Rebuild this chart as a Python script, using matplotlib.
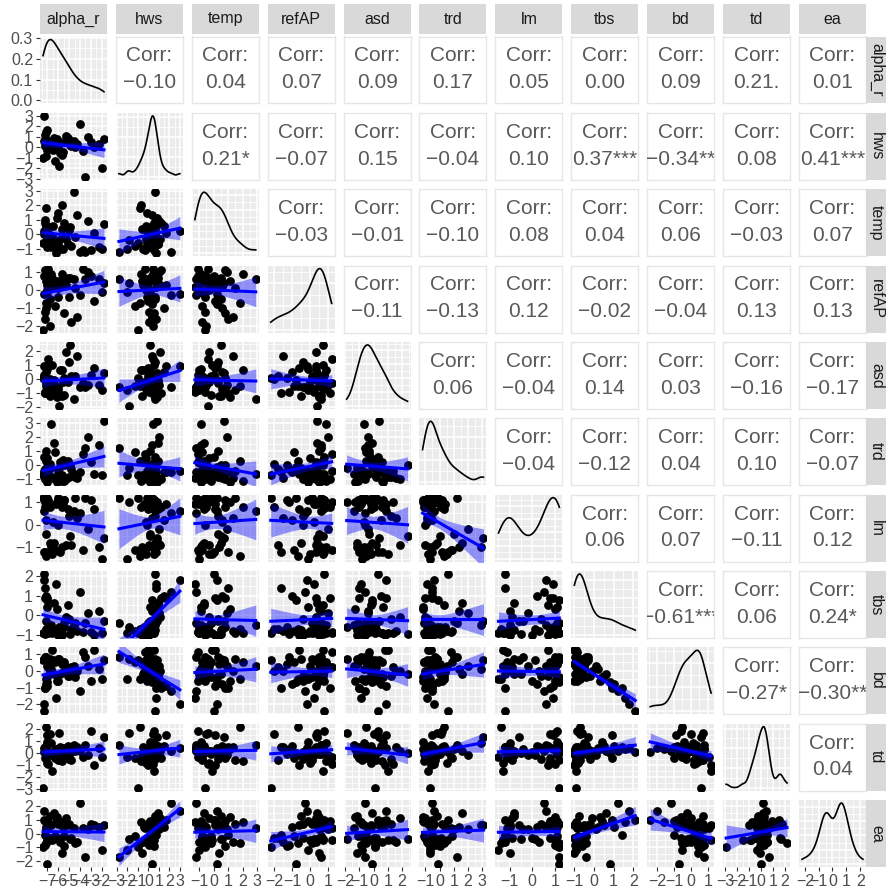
"""Pairs plot of the standardised site variables: scatter + lm fit below,
kernel densities on the diagonal, Pearson correlations above."""

import matplotlib
matplotlib.use("Agg")
import matplotlib.pyplot as plt
import numpy as np

plt.rcParams["font.family"] = ["Liberation Sans", "DejaVu Sans"]

# ---------------------------------------------------------------------------
# data
# ---------------------------------------------------------------------------

VARIABLES = ["alpha_r", "hws", "temp", "refAP", "asd", "trd",
             "lm", "tbs", "bd", "td", "ea"]

alpha_r = [-6.9, -5.8, -7.2, -4.8, -3.5, -5.0, -7.0, -6.1, -7.3, -6.7,
           -7.4, -4.9, -6.2, -3.7, -7.1, -5.5, -7.1, -2.7, -6.4, -5.9,
           -4.3, -7.3, -6.0, -3.3, -6.8, -5.7, -7.0, -4.0, -6.6, -5.6,
           -1.8, -7.2, -6.3, -4.6, -7.0, -5.3, -6.5, -3.0, -7.2, -5.7,
           -7.1, -6.9, -2.0, -5.1, -4.5, -6.8, -7.0, -6.0, -2.3, -5.5]
hws = [0.3, -0.5, 1.2, 0.1, -2.8, 0.6, -0.2, 0.8, 3.0, 0.4,
       -1.0, 0.2, 0.7, -0.3, 1.5, 0.5, -0.8, 0.0, 0.9, -1.8,
       0.3, 0.6, -0.1, 1.0, 0.4, -0.6, 0.2, 2.2, 0.5, -0.4,
       0.8, 0.1, -1.3, 0.6, 0.3, 1.1, -0.2, 0.5, 0.7, -0.7,
       0.2, 0.4, -2.0, 0.9, 0.0, 0.6, 1.7, -0.1, 0.3, 0.5]
temp = [-0.5, -1.0, 0.8, -0.8, -1.2, 0.3, -0.3, 1.1, 0.2, -0.9,
        -0.6, 0.5, -1.3, -1.1, 0.6, -0.2, 1.8, 0.1, -0.7, -0.4,
        1.3, 0.0, 1.5, 0.9, -0.5, 0.4, -0.9, -1.2, -0.1, -1.0,
        0.7, -0.6, -0.8, 2.9, 0.2, -0.3, 0.6, -1.1, 1.0, 2.0,
        0.3, -0.4, -1.0, -0.7, -0.2, 0.5, 0.1, -0.6, -0.9, 0.8]
refAP = [0.8, 0.3, 1.1, -1.8, 0.6, -0.4, 0.0, 0.5, -0.2, 0.9,
         -2.2, 0.7, 0.2, 1.2, -1.0, 0.6, -0.7, -0.6, 0.4, 0.4,
         -1.5, 0.8, 0.1, 1.0, -2.0, 0.5, -0.1, -0.3, 0.7, 0.7,
         0.4, -1.2, -0.9, 0.6, -0.8, 0.3, 0.2, 0.8, -1.6, 0.9,
         0.5, 1.2, -0.1, 0.7, 0.1, -0.5, 0.3, -0.4, 0.6, -1.3]
asd = [-0.4, 0.6, -1.0, 0.2, -0.6, 1.2, -0.2, -1.3, 0.9, -0.7,
       0.1, 2.4, -0.9, -0.3, 0.5, -1.1, -0.5, 0.8, -0.1, -1.9,
       1.6, 0.3, -0.8, -0.4, 0.0, -1.2, 0.7, -0.6, 1.0, -0.2,
       0.4, -0.9, -0.5, -1.4, -0.1, 1.9, -0.7, 0.3, -1.0, 0.6,
       -0.3, 1.4, -0.8, -0.2, 0.2, -1.2, 0.9, -0.6, -0.4, 0.1]
trd = [-0.6, 0.2, -1.0, -0.3, 1.2, -0.8, 0.5, -1.2, -0.4, 2.9,
       -0.7, 0.0, -0.9, 0.8, -0.5, -1.1, 0.3, -0.6, 1.6, -0.2,
       -0.9, 0.6, -0.4, 2.0, 0.1, -0.7, -1.2, -0.5, -0.8, 0.4,
       3.1, -0.3, 0.9, -0.6, -0.1, -1.0, -0.9, 0.2, -0.5, -1.1,
       1.0, -0.4, -0.7, 0.3, -0.8, -0.2, -0.5, -1.0, 1.4, 0.0]
lm = [1.1, -1.2, 0.8, -0.9, 1.2, 0.4, -1.3, 1.0, 0.6, -1.0,
      1.2, -0.5, 0.9, -1.1, 0.2, 1.1, -1.4, 0.7, -0.8, 1.0,
      0.3, -1.2, 1.2, -0.2, 0.8, -1.0, 1.1, 0.5, -1.3, 0.9,
      -0.6, 1.0, -1.1, 0.6, 1.2, -0.9, 0.1, 1.1, -1.2, 0.8,
      -0.4, 1.0, -1.5, 0.7, 1.2, -0.8, 0.9, 0.0, -1.0, 1.1]
tbs = [-0.6, -0.9, 0.9, -0.7, -0.4, -0.2, -0.8, 0.3, 1.8, -0.5,
       -0.9, -0.95, 1.6, -0.85, 1.0, -0.4, -0.7, -1.0, 0.6, -0.6,
       -0.8, 2.1, -0.9, 0.1, -0.7, -1.0, 0.4, 1.2, -0.9, -0.6,
       -0.3, -0.95, -0.8, -0.5, 0.8, -0.1, -0.7, -0.85, 1.4, -0.9,
       -0.3, -0.9, -0.9, 0.5, -0.4, -0.75, 0.9, -1.0, 0.2, -0.6]
bd = [0.4, -0.2, -1.0, 0.2, 0.8, -0.3, 0.3, -0.6, -2.0, 0.1,
      0.6, -0.2, -1.6, 1.1, -0.8, 0.5, -0.5, 1.2, -0.2, 0.7,
      0.0, -2.4, 0.7, 0.3, 0.0, 0.4, -0.4, -1.2, 1.2, -0.1,
      0.6, 0.8, 0.5, 0.3, -0.7, 0.0, 0.6, -0.6, -1.0, 0.5,
      0.8, 0.2, -0.5, -0.3, -0.4, 0.7, -0.9, -0.6, 0.1, 0.4]
td = [0.1, 0.5, -0.4, -0.6, 0.7, -0.5, -0.8, 0.3, 0.4, 0.8,
      -2.9, 0.0, 0.3, -0.3, 0.6, -0.1, 2.2, -1.0, 0.2, 1.7,
      0.5, 0.1, -0.6, -0.2, 1.6, -0.1, 0.9, 0.2, -1.5, 0.4,
      1.3, 0.3, -0.4, 0.7, 0.0, 0.2, -0.2, 1.8, 0.5, -0.7,
      0.3, -0.9, -0.3, 0.6, 0.2, -0.2, 1.5, 0.1, 0.4, -0.1]
ea = [0.5, -0.6, 0.9, -0.3, -1.7, 0.7, -0.5, 1.2, 1.6, 0.6,
      -1.0, -0.4, 0.8, 0.4, 0.5, -0.2, -0.7, 0.6, 1.5, -0.4,
      -0.6, 1.0, 0.7, 0.3, -0.3, -1.4, 0.9, 2.2, -0.5, 0.5,
      0.6, -0.8, -0.2, 0.4, -2.2, 1.1, -0.4, 0.7, -0.1, 0.8,
      0.3, -0.5, -1.2, 0.6, -0.7, 1.3, 1.0, -0.3, 0.5, -0.9]

# upper triangle: one list per row, columns right of the diagonal
corr_r = [
    [-0.10, 0.04, 0.07, 0.09, 0.17, 0.05, 0.00, 0.09, 0.21, 0.01],
    [0.21, -0.07, 0.15, -0.04, 0.10, 0.37, -0.34, 0.08, 0.41],
    [-0.03, -0.01, -0.10, 0.08, 0.04, 0.06, -0.03, 0.07],
    [-0.11, -0.13, 0.12, -0.02, -0.04, 0.13, 0.13],
    [0.06, -0.04, 0.14, 0.03, -0.16, -0.17],
    [-0.04, -0.12, 0.04, 0.10, -0.07],
    [0.06, 0.07, -0.11, 0.12],
    [-0.61, 0.06, 0.24],
    [-0.27, -0.30],
    [0.04],
]
corr_stars = [
    ["", "", "", "", "", "", "", "", ".", ""],
    ["*", "", "", "", "", "***", "**", "", "***"],
    ["", "", "", "", "", "", "", ""],
    ["", "", "", "", "", "", ""],
    ["", "", "", "", "", ""],
    ["", "", "", "", ""],
    ["", "", "", ""],
    ["***", "", "*"],
    ["*", "**"],
    [""],
]

# ---------------------------------------------------------------------------
# helpers
# ---------------------------------------------------------------------------

W, H = 887, 896
LEFT, TOP = 40, 36.5
PITCH_X, PITCH_Y = 75.9, 76.35
PW, PH = 67, 67

BG = "#EBEBEB"
STRIP_BG = "#D9D9D9"
TICK_COL = "#333333"
LABEL_COL = "#4D4D4D"
LABEL_SIZE = 11.5


def px_axes(fig, x, y, w, h):
    return fig.add_axes([x / W, 1 - (y + h) / H, w / W, h / H])


def nrd0(x):
    sd = x.std(ddof=1)
    q75, q25 = np.percentile(x, [75, 25])
    lo = min(sd, (q75 - q25) / 1.34)
    return 0.9 * lo * len(x) ** -0.2


def kde(x, n=512):
    grid = np.linspace(x.min(), x.max(), n)
    bw = nrd0(x)
    z = (grid[:, None] - x[None, :]) / bw
    d = np.exp(-0.5 * z ** 2).sum(axis=1) / (len(x) * bw * np.sqrt(2 * np.pi))
    return grid, d


def t_quantile(df, z=1.959964):
    # Cornish-Fisher expansion of the 97.5% Student t quantile
    return (z + (z ** 3 + z) / (4 * df)
            + (5 * z ** 5 + 16 * z ** 3 + 3 * z) / (96 * df ** 2))


def lm_band(x, y, n=80):
    b1, b0 = np.polyfit(x, y, 1)
    xs = np.linspace(x.min(), x.max(), n)
    fit = b0 + b1 * xs
    resid = y - (b0 + b1 * x)
    s = np.sqrt((resid ** 2).sum() / (len(x) - 2))
    sxx = ((x - x.mean()) ** 2).sum()
    se = s * np.sqrt(1 / len(x) + (xs - x.mean()) ** 2 / sxx)
    t = t_quantile(len(x) - 2)
    return xs, fit, fit - t * se, fit + t * se


def expand(lo, hi, mult=0.05):
    r = hi - lo
    return lo - mult * r, hi + mult * r


def int_breaks(lim):
    return np.arange(np.ceil(lim[0]), np.floor(lim[1]) + 1) + 0.0


def pretty_breaks(lim):
    for step in [0.05, 0.1, 0.2, 0.25, 0.5, 1.0]:
        b = np.arange(np.ceil(lim[0] / step) * step, lim[1] + 1e-9, step)
        if len(b) <= 5:
            break
    return np.round(b, 10) + 0.0


def minor_breaks(major, lim):
    step = major[1] - major[0]
    m = np.arange(major[0] - step / 2, major[-1] + step, step)
    return m[(m >= lim[0]) & (m <= lim[1])]


def fmt(v, decimals=0):
    return f"{v + 0.0:.{decimals}f}".replace("-", "\u2212")


def setup_panel(ax, xlim, ylim, xb, yb, grid=True):
    ax.set_xlim(xlim)
    ax.set_ylim(ylim)
    ax.set_xticks(xb)
    ax.set_yticks(yb)
    ax.set_xticks(minor_breaks(xb, xlim), minor=True)
    ax.set_yticks(minor_breaks(yb, ylim), minor=True)
    ax.tick_params(which="both", length=0, labelbottom=False, labelleft=False)
    if grid:
        ax.set_facecolor(BG)
        ax.grid(which="major", color="white", linewidth=1.1)
        ax.grid(which="minor", color="white", linewidth=0.55)
        ax.set_axisbelow(True)
        for s in ax.spines.values():
            s.set_visible(False)
    else:
        ax.set_facecolor("white")
        for s in ax.spines.values():
            s.set_color("#E6E6E6")
            s.set_linewidth(1.0)


# ---------------------------------------------------------------------------
# plot
# ---------------------------------------------------------------------------

data = [np.asarray(v, dtype=float) for v in
        [alpha_r, hws, temp, refAP, asd, trd, lm, tbs, bd, td, ea]]
nv = len(VARIABLES)
lims = [expand(d.min(), d.max()) for d in data]
breaks = [int_breaks(l) for l in lims]
dens = [kde(d) for d in data]

fig = plt.figure(figsize=(W / 100, H / 100), dpi=100)

for i in range(nv):
    for j in range(nv):
        x0 = LEFT + j * PITCH_X
        y0 = TOP + i * PITCH_Y
        ax = px_axes(fig, x0, y0, PW, PH)

        if i == j:
            gx, gy = dens[j]
            dlim = expand(0, gy.max())
            dbreaks = pretty_breaks(dlim)
            setup_panel(ax, lims[j], dlim, breaks[j], dbreaks)
            ax.plot(gx, gy, color="black", linewidth=1.2)
            if i == 0:
                ax.set_yticklabels([fmt(v, 1) for v in dbreaks])
        elif i > j:
            x, y = data[j], data[i]
            setup_panel(ax, lims[j], lims[i], breaks[j], breaks[i])
            ax.scatter(x, y, s=40, color="black", linewidths=0, zorder=2)
            xs, fit, lo, hi = lm_band(x, y)
            ax.fill_between(xs, lo, hi, color="blue", alpha=0.4,
                            linewidth=0, zorder=3)
            ax.plot(xs, fit, color="#0000FF", linewidth=2.2, zorder=4)
            if j == 0:
                ax.set_yticklabels([fmt(v) for v in breaks[i]])
        else:
            setup_panel(ax, lims[j], lims[i], breaks[j], breaks[i], grid=False)
            r = corr_r[i][j - i - 1]
            stars = corr_stars[i][j - i - 1]
            ax.text(0.5, 0.71, "Corr:", transform=ax.transAxes, ha="center",
                    va="center", fontsize=15, color="#595959")
            ax.text(0.5, 0.31, fmt(r, 2) + stars, transform=ax.transAxes,
                    ha="center", va="center", fontsize=15, color="#595959",
                    clip_on=True)

        if j == 0:
            ax.tick_params(axis="y", which="major", length=3, width=0.8,
                           color=TICK_COL, labelleft=True,
                           labelsize=LABEL_SIZE, labelcolor=LABEL_COL, pad=2)
        if i == nv - 1:
            ax.set_xticklabels([fmt(v) for v in breaks[j]])
            ax.tick_params(axis="x", which="major", length=3, width=0.8,
                           color=TICK_COL, labelbottom=True,
                           labelsize=LABEL_SIZE, labelcolor=LABEL_COL, pad=2)

# facet strips
for j, name in enumerate(VARIABLES):
    sx = px_axes(fig, LEFT + j * PITCH_X, 4, PW, 30)
    sx.set_facecolor(STRIP_BG)
    sx.set_xticks([])
    sx.set_yticks([])
    for s in sx.spines.values():
        s.set_visible(False)
    sx.text(0.5, 0.5, name, ha="center", va="center", fontsize=11.5,
            color="#1A1A1A", transform=sx.transAxes)

for i, name in enumerate(VARIABLES):
    sy = px_axes(fig, LEFT + (nv - 1) * PITCH_X + PW, TOP + i * PITCH_Y, 21, PH)
    sy.set_facecolor(STRIP_BG)
    sy.set_xticks([])
    sy.set_yticks([])
    for s in sy.spines.values():
        s.set_visible(False)
    sy.text(0.5, 0.5, name, ha="center", va="center", fontsize=11.5,
            color="#1A1A1A", rotation=-90, transform=sy.transAxes)

fig.savefig("out.png", dpi=100)
